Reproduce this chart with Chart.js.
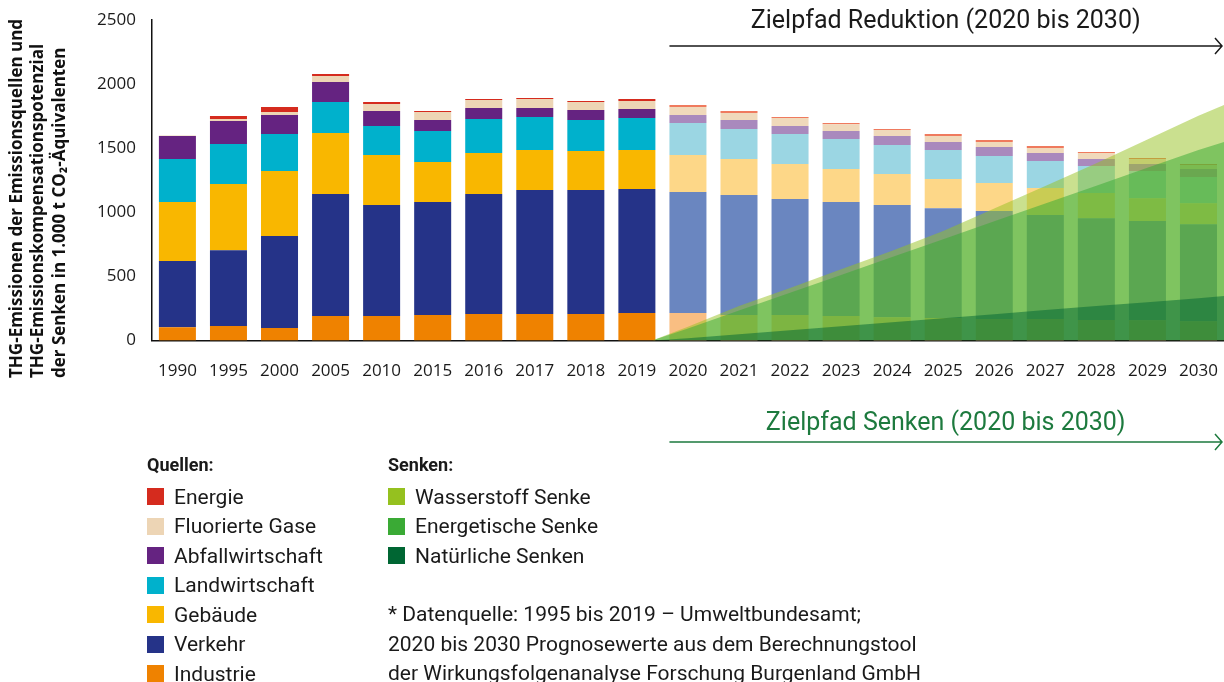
<!DOCTYPE html>
<html lang="de">
<head>
<meta charset="utf-8">
<script src="https://cdn.jsdelivr.net/npm/chart.js@4/dist/chart.umd.min.js"></script>
<style>
  body { margin: 0; background: #fff; font-family: Roboto, sans-serif; color: #1a1a1a; }
  #wrap { position: relative; width: 1224px; height: 682px; overflow: hidden; }
  #chartBox { position: absolute; left: 0; top: 0; width: 1224px; height: 682px; }
  .col { position: absolute; top: 454px; font-size: 21px; }
  .col h4 { margin: 0 0 6px 0; font-size: 18px; font-weight: 700; height: 22px; line-height: 22px; }
  .item { height: 29.5px; display: flex; align-items: center; white-space: nowrap; }
  .sw { width: 17px; height: 17px; margin-right: 10px; flex: none; }
  .note { position: absolute; left: 388px; top: 600px; font-size: 21px; line-height: 29.5px; white-space: nowrap; }
</style>
</head>
<body>
<div id="wrap">
  <div id="chartBox"><canvas id="thgChart"></canvas></div>
  <div class="col" id="srcLegend" style="left:147px"><h4>Quellen:</h4></div>
  <div class="col" id="sinkLegend" style="left:388px"><h4>Senken:</h4></div>
  <div class="note">* Datenquelle: 1995 bis 2019 – Umweltbundesamt;<br>2020 bis 2030 Prognosewerte aus dem Berechnungstool<br>der Wirkungsfolgenanalyse Forschung Burgenland GmbH</div>
</div>
<script>
// categories
const years = ["1990", "1995", "2000", "2005", "2010", "2015", "2016", "2017", "2018", "2019",
               "2020", "2021", "2022", "2023", "2024", "2025", "2026", "2027", "2028", "2029", "2030"];
const firstForecast = "2020";

// Quellen (1.000 t CO2-Äquivalente)
const industrie = [105, 113, 98, 191, 191, 199, 207, 207, 207, 215, 215, 199, 199, 191, 183, 176, 168, 168, 160, 158, 150];
const verkehr = [515, 592, 717, 952, 866, 881, 936, 967, 967, 967, 943, 936, 905, 889, 874, 857, 842, 811, 795, 774, 758];
const gebaeude = [460, 516, 507, 476, 390, 312, 320, 312, 304, 304, 289, 281, 273, 258, 242, 227, 219, 211, 195, 179, 164];
const landwirtschaft = [336, 312, 289, 241, 226, 242, 265, 257, 242, 250, 250, 234, 234, 234, 226, 226, 210, 210, 211, 211, 203];
const abfall = [179, 179, 148, 156, 117, 86, 86, 71, 78, 70, 62, 70, 62, 62, 70, 62, 70, 62, 55, 55, 63];
const fluorGase = [5, 16, 23, 47, 55, 62, 62, 70, 62, 62, 62, 55, 63, 54, 47, 47, 39, 39, 46, 39, 31];
const energie = [0, 23, 39, 16, 15, 8, 8, 7, 8, 16, 16, 15, 7, 9, 8, 16, 16, 16, 8, 7, 8];

// Senken (Zielpfad), positions on the category index axis
const sinkPos = [9.3, 10, 11, 12, 13, 14, 15, 16, 17, 18, 19, 20, 20.5];
const wasserstoffSenke = [0, 108, 269, 411, 556, 700, 854, 1030, 1205, 1383, 1569, 1754, 1837];
const energetischeSenke = [0, 94, 234, 373, 512, 651, 790, 930, 1069, 1208, 1347, 1487, 1548];
const natuerlicheSenken = [0, 18, 49, 81, 112, 143, 175, 206, 238, 269, 300, 331, 347];

const yTicks = [0, 500, 1000, 1500, 2000, 2500];

const sources = [
  { label: "Industrie", data: industrie, color: "#ef8200", light: "#f9be82" },
  { label: "Verkehr", data: verkehr, color: "#253388", light: "#6a86c0" },
  { label: "Gebäude", data: gebaeude, color: "#f9b700", light: "#fdd788" },
  { label: "Landwirtschaft", data: landwirtschaft, color: "#00b1cc", light: "#9bd6e3" },
  { label: "Abfallwirtschaft", data: abfall, color: "#652381", light: "#a989bd" },
  { label: "Fluorierte Gase", data: fluorGase, color: "#edd5b5", light: "#f0d9bb" },
  { label: "Energie", data: energie, color: "#d52b1e", light: "#ef7a5e" }
];
const sinks = [
  { label: "Wasserstoff Senke", data: wasserstoffSenke, color: "#95c11f", fill: "rgba(149,193,31,0.5)" },
  { label: "Energetische Senke", data: energetischeSenke, color: "#3aaa35", fill: "rgba(58,170,53,0.52)" },
  { label: "Natürliche Senken", data: natuerlicheSenken, color: "#006633", fill: "rgba(0,102,51,0.5)" }
];

const forecastIdx = years.indexOf(firstForecast);

const datasets = sources.map(function (s) {
  return {
    type: "bar",
    label: s.label,
    data: s.data,
    xAxisID: "x",
    yAxisID: "y",
    stack: "quellen",
    grouped: false,
    order: 10,
    backgroundColor: years.map(function (y, i) { return i >= forecastIdx ? s.light : s.color; }),
    borderWidth: 0,
    barPercentage: 0.725,
    categoryPercentage: 1
  };
});
sinks.forEach(function (s, k) {
  datasets.push({
    type: "line",
    label: s.label,
    data: sinkPos.map(function (p, i) { return { x: p, y: s.data[i] }; }),
    xAxisID: "xi",
    yAxisID: "y",
    stack: "senke" + k,
    order: 3 - k,
    fill: "origin",
    backgroundColor: s.fill,
    borderWidth: 0,
    pointRadius: 0,
    tension: 0
  });
});

function arrow(ctx, x0, x1, y, color) {
  ctx.save();
  ctx.strokeStyle = color;
  ctx.lineWidth = 1.5;
  ctx.beginPath();
  ctx.moveTo(x0, y);
  ctx.lineTo(x1, y);
  ctx.moveTo(x1 - 7, y - 8);
  ctx.lineTo(x1, y);
  ctx.lineTo(x1 - 7, y + 8);
  ctx.stroke();
  ctx.restore();
}

const overlay = {
  id: "overlay",
  afterDraw: function (chart) {
    const ctx = chart.ctx;
    const area = chart.chartArea;
    const bar = chart.getDatasetMeta(0).data[forecastIdx];
    const x0 = bar.x - bar.width / 2;
    const x1 = area.right - 2;
    const mid = (x0 + x1) / 2;

    arrow(ctx, x0, x1, 46, "#1a1a1a");
    arrow(ctx, x0, x1, 442, "#1d7a3e");

    ctx.save();
    ctx.font = "25px Roboto";
    ctx.textAlign = "center";
    ctx.textBaseline = "middle";
    ctx.fillStyle = "#1a1a1a";
    ctx.fillText("Zielpfad Reduktion (2020 bis 2030)", mid, 22);
    ctx.fillStyle = "#1d7a3e";
    ctx.fillText("Zielpfad Senken (2020 bis 2030)", mid, 424);

    // y axis title, three lines
    const lines = ["THG-Emissionen der Emissionsquellen und",
                   "THG-Emissionskompensationspotenzial",
                   "der Senken in 1.000 t CO₂-Äquivalenten"];
    ctx.font = "bold 17px 'Open Sans'";
    ctx.textAlign = "left";
    ctx.fillStyle = "#111";
    lines.forEach(function (t, i) {
      ctx.save();
      ctx.translate(17 + i * 21.5, 378);
      ctx.rotate(-Math.PI / 2);
      ctx.fillText(t, 0, 0);
      ctx.restore();
    });
    ctx.restore();
  }
};

new Chart(document.getElementById("thgChart"), {
  data: { labels: years, datasets: datasets },
  options: {
    responsive: true,
    maintainAspectRatio: false,
    animation: false,
    layout: { padding: { left: 93, right: 0, top: 20, bottom: 297 } },
    plugins: { legend: { display: false }, tooltip: { enabled: false } },
    scales: {
      x: {
        type: "category",
        grid: { display: false, drawTicks: true, tickLength: 16 },
        border: { display: true, color: "#111", width: 1.5 },
        ticks: { color: "#1a1a1a", font: { family: "Open Sans", size: 17 }, padding: 4, maxRotation: 0, autoSkip: false }
      },
      xi: { type: "linear", display: false, min: -0.5, max: 20.5 },
      y: {
        stacked: true,
        min: yTicks[0],
        max: yTicks[yTicks.length - 1],
        grid: { display: false, drawTicks: true, tickLength: 12 },
        border: { display: true, color: "#111", width: 1.5 },
        afterBuildTicks: function (axis) { axis.ticks = yTicks.map(function (v) { return { value: v }; }); },
        ticks: {
          color: "#1a1a1a", font: { family: "Open Sans", size: 17 }, padding: 4,
          callback: function (v) { return String(v); }
        }
      }
    }
  },
  plugins: [overlay]
});

// HTML legend
function legendItems(el, list) {
  list.forEach(function (s) {
    const row = document.createElement("div");
    row.className = "item";
    row.innerHTML = '<span class="sw" style="background:' + s.color + '"></span><span></span>';
    row.lastChild.textContent = s.label;
    el.appendChild(row);
  });
}
legendItems(document.getElementById("srcLegend"), sources.slice().reverse());
legendItems(document.getElementById("sinkLegend"), sinks);
</script>
</body>
</html>
